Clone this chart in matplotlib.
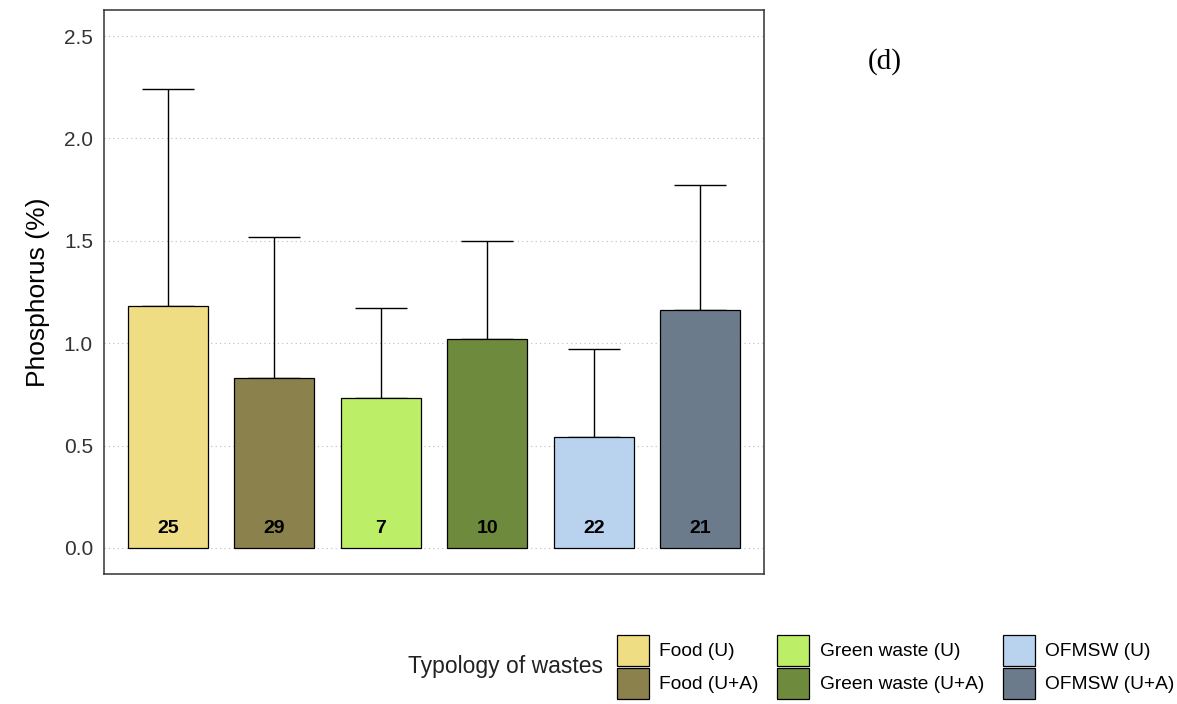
import numpy as np
import matplotlib
matplotlib.use("Agg")
import matplotlib.pyplot as plt

plt.rcParams['font.family'] = ['Liberation Sans', 'DejaVu Sans']

# data
labels = ["Food (U)", "Food (U+A)", "Green waste (U)", "Green waste (U+A)", "OFMSW (U)", "OFMSW (U+A)"]
means = [1.18, 0.83, 0.73, 1.02, 0.54, 1.16]
sds = [1.06, 0.69, 0.44, 0.48, 0.43, 0.61]
counts = [25, 29, 7, 10, 22, 21]
colors = ["#EEDD82", "#8B814C", "#BCEE68", "#6E8B3D", "#B9D3EE", "#6C7B8B"]
yticks = [0.0, 0.5, 1.0, 1.5, 2.0, 2.5]

fig = plt.figure(figsize=(11.77, 7.04), dpi=100)
ax = fig.add_axes([0.0884, 0.1847, 0.5608, 0.8011])

x = np.arange(len(labels))
ax.errorbar(x, means, yerr=[np.zeros(len(sds)), sds], fmt="none",
            ecolor="black", elinewidth=1, capsize=19, capthick=1, zorder=2)
bars = ax.bar(x, means, width=0.75, color=colors, edgecolor="black",
              linewidth=0.9, zorder=3, label=labels)
for xi, n in zip(x, counts):
    ax.text(xi, 0.095, str(n), ha="center", va="center", fontsize=14,
            fontweight="bold", zorder=4)

ax.set_xlim(-0.6, 5.6)
ax.set_ylim(-0.127, 2.627)
ax.set_yticks(yticks)
ax.set_yticklabels([f"{v:.1f}" for v in yticks], fontsize=15, color="#333333")
ax.set_xticks([])
ax.tick_params(axis="y", length=0, pad=8)
ax.yaxis.grid(True, linestyle=(0, (1, 3)), color="#bbbbbb", linewidth=0.8)
ax.set_axisbelow(True)
for s in ax.spines.values():
    s.set_color("#333333")
    s.set_linewidth(1.1)
ax.set_ylabel("Phosphorus (%)", fontsize=19, labelpad=10)

fig.text(0.752, 0.912, "(d)", fontsize=21, family="Liberation Serif",
         ha="center", va="center")

fig.legend(handles=bars.patches, labels=labels, ncol=3,
           loc="center left", bbox_to_anchor=(0.524, 0.0526),
           frameon=False, fontsize=13.8, handlelength=1.68, handleheight=2.15,
           labelspacing=0.08, handletextpad=0.55, columnspacing=0.95,
           borderpad=0, borderaxespad=0)
fig.text(0.512, 0.0526, "Typology of wastes", fontsize=16.5, ha="right",
         va="center", color="#222222")

fig.savefig("out.png", dpi=100)
